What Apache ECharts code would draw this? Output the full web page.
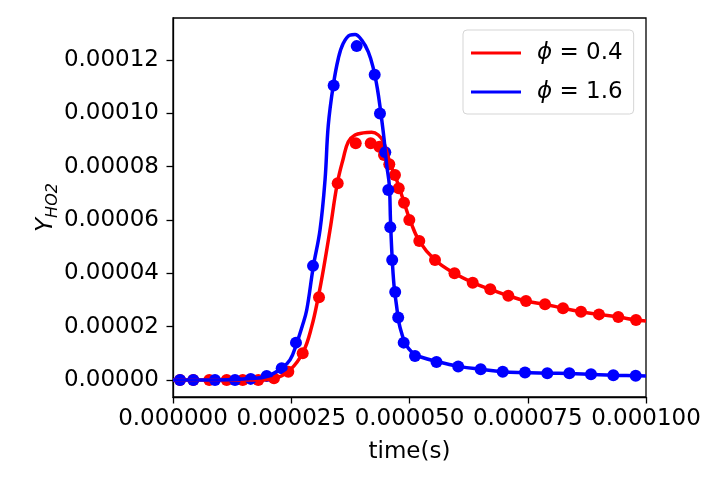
<!DOCTYPE html>
<html>
<head>
<meta charset="utf-8">
<script src="https://cdn.jsdelivr.net/npm/echarts@6/dist/echarts.min.js"></script>
<style>html,body{margin:0;padding:0;background:#fff;}#c{width:720px;height:480px;}</style>
</head>
<body>
<div id="c"></div>
<script>
// ---- data ----
const xTicks = [0, 0.000025, 0.00005, 0.000075, 0.0001];
const yTicks = [0, 0.00002, 0.00004, 0.00006, 0.00008, 0.0001, 0.00012];

const redLineT = [0, 5.71e-6, 1.205e-5, 1.803e-5, 2.157e-5, 2.474e-5, 2.755e-5, 2.932e-5, 3.072e-5, 3.178e-5, 3.319e-5, 3.474e-5, 3.600e-5, 3.706e-5, 3.848e-5, 4.023e-5, 4.201e-5, 4.340e-5, 4.446e-5, 4.518e-5, 4.588e-5, 4.729e-5, 4.869e-5, 5.011e-5, 5.207e-5, 5.539e-5, 5.951e-5, 6.336e-5, 6.708e-5, 7.089e-5, 7.463e-5, 7.865e-5, 8.245e-5, 8.626e-5, 9.006e-5, 9.414e-5, 9.789e-5, 1.0e-4];
const redLineY = [0, 0, 0, 0, 0.64e-6, 3.75e-6, 1.06e-5, 2.0e-5, 3.12e-5, 4.125e-5, 5.625e-5, 7.38e-5, 8.31e-5, 8.94e-5, 9.19e-5, 9.27e-5, 9.29e-5, 9.19e-5, 8.94e-5, 8.56e-5, 8.13e-5, 7.5e-5, 6.75e-5, 6.0e-5, 5.21e-5, 4.5e-5, 4.0e-5, 3.65e-5, 3.40e-5, 3.16e-5, 2.96e-5, 2.84e-5, 2.69e-5, 2.56e-5, 2.46e-5, 2.36e-5, 2.25e-5, 2.21e-5];

const blueLineT = [0, 5.71e-6, 1.205e-5, 1.628e-5, 1.981e-5, 2.298e-5, 2.474e-5, 2.615e-5, 2.727e-5, 2.827e-5, 2.966e-5, 3.108e-5, 3.214e-5, 3.283e-5, 3.389e-5, 3.495e-5, 3.600e-5, 3.742e-5, 3.848e-5, 3.990e-5, 4.129e-5, 4.235e-5, 4.320e-5, 4.391e-5, 4.461e-5, 4.518e-5, 4.573e-5, 4.598e-5, 4.630e-5, 4.672e-5, 4.729e-5, 4.778e-5, 4.835e-5, 4.905e-5, 4.975e-5, 5.095e-5, 5.222e-5, 5.575e-5, 6.068e-5, 6.505e-5, 6.971e-5, 7.442e-5, 7.913e-5, 8.379e-5, 8.837e-5, 9.309e-5, 9.782e-5, 1.0e-4];
const blueLineY = [0, 0, 0.1e-6, 0.55e-6, 1.3e-6, 4.4e-6, 7.5e-6, 1.375e-5, 1.99e-5, 2.625e-5, 4.25e-5, 5.625e-5, 7.5e-5, 9.56e-5, 1.106e-4, 1.206e-4, 1.263e-4, 1.294e-4, 1.296e-4, 1.275e-4, 1.231e-4, 1.169e-4, 1.094e-4, 1.006e-4, 9.06e-5, 8.06e-5, 7.31e-5, 6.0e-5, 4.69e-5, 3.56e-5, 2.75e-5, 2.14e-5, 1.75e-5, 1.39e-5, 1.19e-5, 9.75e-6, 8.7e-6, 6.9e-6, 5.0e-6, 4.0e-6, 3.1e-6, 2.75e-6, 2.5e-6, 2.45e-6, 2.1e-6, 1.75e-6, 1.6e-6, 1.5e-6];

const redPointT = [1.48e-6, 4.29e-6, 7.67e-6, 1.135e-5, 1.474e-5, 1.803e-5, 2.135e-5, 2.438e-5, 2.742e-5, 3.087e-5, 3.482e-5, 3.863e-5, 4.180e-5, 4.362e-5, 4.461e-5, 4.573e-5, 4.693e-5, 4.772e-5, 4.884e-5, 4.996e-5, 5.207e-5, 5.539e-5, 5.951e-5, 6.336e-5, 6.708e-5, 7.089e-5, 7.463e-5, 7.865e-5, 8.245e-5, 8.626e-5, 9.006e-5, 9.414e-5, 9.789e-5];
const redPointY = [0, 0, 0, 0, 0, 0, 0.6e-6, 3.1e-6, 1.0e-5, 3.1e-5, 7.38e-5, 8.88e-5, 8.88e-5, 8.75e-5, 8.44e-5, 8.09e-5, 7.69e-5, 7.19e-5, 6.65e-5, 6.0e-5, 5.21e-5, 4.5e-5, 4.0e-5, 3.65e-5, 3.40e-5, 3.16e-5, 2.96e-5, 2.84e-5, 2.69e-5, 2.56e-5, 2.46e-5, 2.36e-5, 2.25e-5];

const bluePointT = [1.48e-6, 4.29e-6, 8.88e-6, 1.311e-5, 1.643e-5, 1.981e-5, 2.298e-5, 2.600e-5, 2.960e-5, 3.397e-5, 3.884e-5, 4.264e-5, 4.376e-5, 4.488e-5, 4.552e-5, 4.594e-5, 4.634e-5, 4.698e-5, 4.761e-5, 4.877e-5, 5.116e-5, 5.571e-5, 6.030e-5, 6.505e-5, 6.971e-5, 7.442e-5, 7.913e-5, 8.379e-5, 8.837e-5, 9.309e-5, 9.782e-5];
const bluePointY = [0, 0, 0, 0, 0.4e-6, 1.5e-6, 4.4e-6, 1.40e-5, 4.28e-5, 1.105e-4, 1.2525e-4, 1.145e-4, 1.0e-4, 8.54e-5, 7.13e-5, 5.73e-5, 4.5e-5, 3.3e-5, 2.34e-5, 1.4e-5, 9.0e-6, 6.75e-6, 5.0e-6, 4.0e-6, 3.1e-6, 2.75e-6, 2.5e-6, 2.5e-6, 2.1e-6, 1.75e-6, 1.6e-6];

const seriesNames = ['ϕ = 0.4', 'ϕ = 1.6'];

// ---- chart ----
const zip = (a, b) => a.map((v, i) => [v, b[i]]);
const FONT = 'DejaVu Sans';
const FS = 23;
const chart = echarts.init(document.getElementById('c'), null, {renderer: 'canvas'});
chart.setOption({
  animation: false,
  backgroundColor: '#fff',
  grid: {left: 173, right: 74, top: 18, bottom: 83, show: true, borderColor: '#000', borderWidth: 1.3, backgroundColor: 'transparent'},
  legend: {
    data: seriesNames,
    orient: 'vertical',
    left: 463, top: 30,
    padding: [11, 11, 10, 8],
    itemGap: 15,
    itemWidth: 50, itemHeight: 3,
    icon: 'rect',
    backgroundColor: 'rgba(255,255,255,0.8)',
    borderColor: '#d5d5d5', borderWidth: 1, borderRadius: 4,
    formatter: n => '{s|}{i|' + n.slice(0, 1) + '}{t|' + n.slice(1) + '}',
    textStyle: {
      fontFamily: FONT, fontSize: FS, color: '#000', lineHeight: 24,
      rich: {
        s: {width: 11},
        i: {fontFamily: FONT, fontSize: FS, fontStyle: 'italic', color: '#000'},
        t: {fontFamily: FONT, fontSize: FS, color: '#000'}
      }
    }
  },
  xAxis: {
    type: 'value', min: 0, max: 0.0001,
    name: 'time(s)', nameLocation: 'middle', nameGap: 44, nameMoveOverlap: false,
    nameTextStyle: {fontFamily: FONT, fontSize: FS, color: '#000'},
    axisLine: {show: true, onZero: false, lineStyle: {color: '#000', width: 1.3}},
    axisTick: {show: true, inside: false, length: 6.5, customValues: xTicks, lineStyle: {color: '#000', width: 1.3}},
    axisLabel: {customValues: xTicks, margin: 11, fontFamily: FONT, fontSize: FS, color: '#000', formatter: v => v.toFixed(6)},
    splitLine: {show: false}
  },
  yAxis: {
    type: 'value', min: -6.4e-6, max: 1.358e-4,
    name: '{y|Y}{sub|HO2}', nameLocation: 'middle', nameGap: 112, nameRotate: 90, nameMoveOverlap: false,
    nameTextStyle: {
      fontFamily: FONT, fontSize: FS, color: '#000',
      rich: {
        y: {fontFamily: FONT, fontSize: FS, fontStyle: 'italic', color: '#000', lineHeight: 30, verticalAlign: 'middle'},
        sub: {fontFamily: FONT, fontSize: 16, fontStyle: 'italic', color: '#000', lineHeight: 16, verticalAlign: 'bottom'}
      }
    },
    axisLine: {show: true, onZero: false, lineStyle: {color: '#000', width: 1.3}},
    axisTick: {show: true, inside: false, length: 6.5, customValues: yTicks, lineStyle: {color: '#000', width: 1.3}},
    axisLabel: {customValues: yTicks, margin: 14, fontFamily: FONT, fontSize: FS, color: '#000', formatter: v => v.toFixed(5)},
    splitLine: {show: false}
  },
  series: [
    {name: seriesNames[0], type: 'line', data: zip(redLineT, redLineY), smooth: 0.4, showSymbol: false, symbol: 'none',
     lineStyle: {color: '#ff0000', width: 3.5}, itemStyle: {color: '#ff0000'}},
    {name: 'red points', type: 'scatter', data: zip(redPointT, redPointY), symbolSize: 12,
     itemStyle: {color: '#ff0000', opacity: 1}},
    {name: seriesNames[1], type: 'line', data: zip(blueLineT, blueLineY), smooth: 0.4, showSymbol: false, symbol: 'none',
     lineStyle: {color: '#0000ff', width: 3.5}, itemStyle: {color: '#0000ff'}},
    {name: 'blue points', type: 'scatter', data: zip(bluePointT, bluePointY), symbolSize: 12,
     itemStyle: {color: '#0000ff', opacity: 1}}
  ]
});
</script>
</body>
</html>
